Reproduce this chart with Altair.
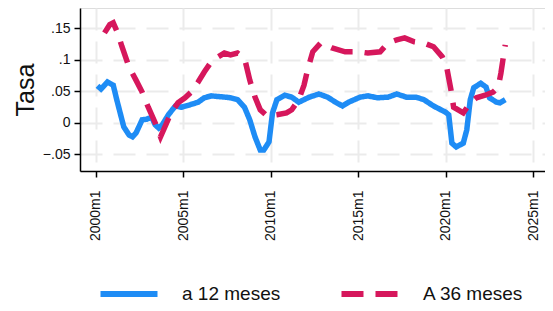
import altair as alt
import pandas as pd

# 12-month rate
t12 = [2000.1, 2000.3, 2000.67, 2001.0, 2001.2, 2001.6, 2001.9, 2002.1, 2002.3, 2002.65,
       2002.9, 2003.2, 2003.4, 2003.6, 2003.8, 2004.15, 2004.55, 2004.9, 2005.4, 2005.85,
       2006.2, 2006.6, 2007.4, 2007.7, 2008.1, 2008.5, 2008.8, 2009.1, 2009.4, 2009.6,
       2009.9, 2010.1, 2010.35, 2010.8, 2011.2, 2011.6, 2012.2, 2012.75, 2013.25, 2013.7,
       2014.1, 2014.45, 2015.1, 2015.55, 2016.1, 2016.7, 2017.2, 2017.75, 2018.3, 2018.75,
       2019.3, 2020.0, 2020.17, 2020.35, 2020.6, 2021.0, 2021.2, 2021.4, 2021.6, 2022.0,
       2022.3, 2022.5, 2022.9, 2023.1, 2023.4]
v12 = [0.059, 0.054, 0.065, 0.060, 0.037, -0.006, -0.019, -0.022, -0.016, 0.005,
       0.006, 0.009, -0.003, -0.008, -0.003, 0.013, 0.027, 0.025, 0.029, 0.033,
       0.040, 0.043, 0.041, 0.040, 0.037, 0.025, 0.005, -0.022, -0.043, -0.043,
       -0.030, 0.016, 0.037, 0.044, 0.041, 0.033, 0.041, 0.046, 0.041, 0.033,
       0.027, 0.033, 0.041, 0.043, 0.040, 0.041, 0.046, 0.041, 0.041, 0.037,
       0.027, 0.017, 0.013, -0.032, -0.038, -0.032, -0.011, 0.037, 0.056, 0.063,
       0.057, 0.040, 0.033, 0.032, 0.037]

# 36-month rate
t36 = [2000.5, 2000.8, 2001.0, 2001.25, 2001.5, 2001.9, 2002.3, 2002.65, 2003.0, 2003.4,
       2003.7, 2004.0, 2004.3, 2004.7, 2005.1, 2005.45, 2005.85, 2006.2, 2006.6, 2007.0,
       2007.35, 2007.7, 2008.1, 2008.5, 2008.8, 2009.1, 2009.4, 2009.8, 2010.35, 2010.9,
       2011.2, 2011.6, 2011.9, 2012.1, 2012.4, 2012.85, 2013.5, 2014.25, 2015.0, 2015.55,
       2016.25, 2016.7, 2017.2, 2017.65, 2018.2, 2018.75, 2019.3, 2019.8, 2020.05, 2020.3,
       2020.45, 2021.0, 2021.4, 2021.75, 2022.25, 2022.7, 2023.0, 2023.15, 2023.35, 2023.4]
v36 = [0.143, 0.156, 0.159, 0.143, 0.121, 0.089, 0.068, 0.049, 0.025, 0.000,
       -0.022, -0.003, 0.016, 0.032, 0.040, 0.049, 0.065, 0.081, 0.097, 0.105,
       0.111, 0.108, 0.111, 0.103, 0.068, 0.041, 0.021, 0.011, 0.013, 0.016,
       0.021, 0.037, 0.060, 0.084, 0.113, 0.127, 0.119, 0.113, 0.113, 0.111,
       0.113, 0.127, 0.132, 0.135, 0.129, 0.127, 0.121, 0.105, 0.089, 0.052,
       0.025, 0.016, 0.032, 0.040, 0.044, 0.049, 0.057, 0.079, 0.116, 0.124]

series_names = ["a 12 meses", "A 36 meses"]
x_ticks = [2000, 2005, 2010, 2015, 2020, 2025]
y_ticks = [-0.05, 0, 0.05, 0.1, 0.15]

df = pd.concat([
    pd.DataFrame({"t": t12, "v": v12, "s": series_names[0]}),
    pd.DataFrame({"t": t36, "v": v36, "s": series_names[1]}),
])

FONT = "Liberation Sans"

chart = alt.Chart(df).mark_line(strokeWidth=5.5, strokeCap="butt").encode(
    x=alt.X("t:Q", scale=alt.Scale(domain=[1999.1, 2025.67], nice=False, zero=False),
            axis=alt.Axis(values=x_ticks, labelExpr="datum.value + 'm1'", labelAngle=-90,
                          labelAlign="right", labelBaseline="middle", labelPadding=13,
                          tickSize=6, tickColor="black", domainColor="black", domainWidth=1.5,
                          tickWidth=1.5,
                          labelFontSize=14, labelFont=FONT, labelColor="#111",
                          gridColor="#ebebeb", gridWidth=2, gridDash=[22, 11],
                          title=None)),
    y=alt.Y("v:Q", scale=alt.Scale(domain=[-0.0762, 0.1825], nice=False, zero=False),
            axis=alt.Axis(values=y_ticks,
                          labelExpr="datum.value == 0 ? '0' : replace(format(datum.value, '.2~f'), '0.', '.')",
                          tickSize=6, tickColor="black", domainColor="black", domainWidth=1.5,
                          tickWidth=1.5,
                          labelFontSize=14, labelFont=FONT, labelColor="#111", labelPadding=4,
                          gridColor="#ebebeb", gridWidth=2, gridDash=[22, 11],
                          title="Tasa", titleFontSize=25, titleFont=FONT, titleFontWeight="normal",
                          titleColor="#111", titlePadding=4)),
    color=alt.Color("s:N", scale=alt.Scale(domain=series_names, range=["#1E8CF5", "#D6175C"]),
                    legend=alt.Legend(title=None, orient="none", legendX=17, legendY=254,
                                      direction="horizontal", symbolType="stroke",
                                      symbolSize=3250, symbolStrokeWidth=6,
                                      labelFontSize=19, labelFont=FONT, labelColor="#111",
                                      labelOffset=21, columnPadding=48)),
    strokeDash=alt.StrokeDash("s:N", scale=alt.Scale(domain=series_names, range=[[1, 0], [22, 12]]),
                              legend=None),
).properties(
    width=465, height=163, padding={"left": 72, "top": 0, "right": 0, "bottom": 132},
    autosize=alt.AutoSizeParams(type="none"),
).configure_view(stroke=None).configure(background="white")

chart.save("out.html", embed_options={"renderer": "svg", "actions": False})
